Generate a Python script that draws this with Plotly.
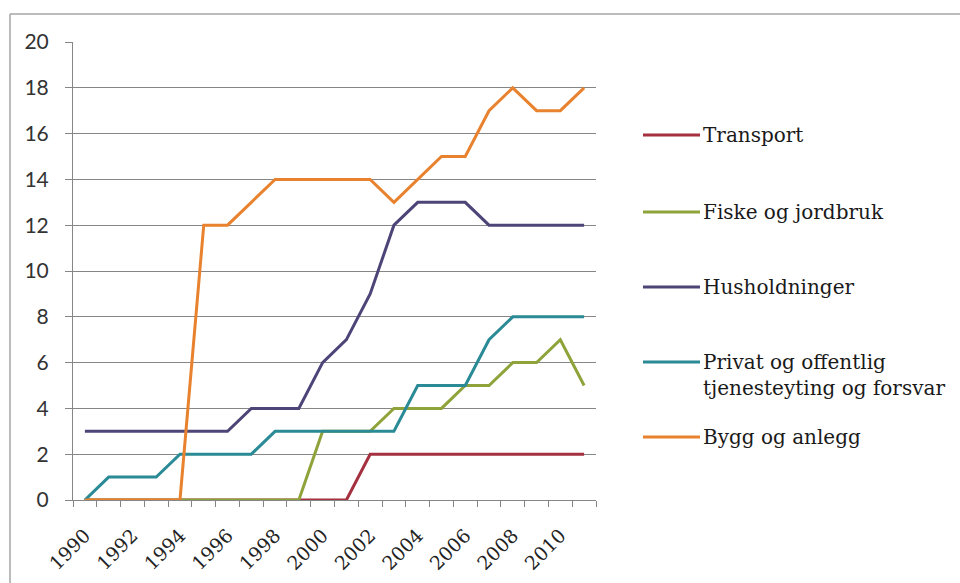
import plotly.graph_objects as go

# Years on the category axis
years = list(range(1990, 2012))
year_labels = [str(y) for y in range(1990, 2011, 2)]

# Series (number per year)
transport = [0, 0, 0, 0, 0, 0, 0, 0, 0, 0, 0, 0, 2, 2, 2, 2, 2, 2, 2, 2, 2, 2]
fiske = [0, 0, 0, 0, 0, 0, 0, 0, 0, 0, 3, 3, 3, 4, 4, 4, 5, 5, 6, 6, 7, 5]
husholdninger = [3, 3, 3, 3, 3, 3, 3, 4, 4, 4, 6, 7, 9, 12, 13, 13, 13, 12, 12, 12, 12, 12]
privat = [0, 1, 1, 1, 2, 2, 2, 2, 3, 3, 3, 3, 3, 3, 5, 5, 5, 7, 8, 8, 8, 8]
bygg = [0, 0, 0, 0, 0, 12, 12, 13, 14, 14, 14, 14, 14, 13, 14, 15, 15, 17, 18, 17, 17, 18]

series_names = [
    "Transport",
    "Fiske og jordbruk",
    "Husholdninger",
    "Privat og offentlig<br>tjenesteyting og forsvar",
    "Bygg og anlegg",
]
series_values = [transport, fiske, husholdninger, privat, bygg]
series_colors = ["#A5303F", "#8EA33A", "#4D4478", "#2A8A95", "#E8822E"]

# Plot area in pixels (figure is 960 x 583)
W, H = 960, 583
L, R, T, B = 73, 596, 42, 500
pw, ph = R - L, B - T


def px_x(px):
    return (px - L) / pw


def px_y(py):
    return (B - py) / ph


fig = go.Figure()

# Draw so that Bygg og anlegg ends up on top, Transport on the bottom
for name, vals, col in zip(series_names, series_values, series_colors):
    fig.add_trace(go.Scatter(
        x=years, y=vals, mode="lines", name=name,
        line=dict(color=col, width=3), showlegend=False,
    ))

serif = "DejaVu Serif"
sans = "Lato"

# Hand-drawn legend on the right
legend_rows = [135, 212, 287, 362, 437]
shapes = []
annotations = []
for name, col, ry in zip(series_names, series_colors, legend_rows):
    shapes.append(dict(
        type="line", xref="paper", yref="paper",
        x0=px_x(643), x1=px_x(700), y0=px_y(ry), y1=px_y(ry),
        line=dict(color=col, width=3),
    ))
    annotations.append(dict(
        xref="paper", yref="paper", x=px_x(701), y=px_y(ry - 14),
        xanchor="left", yanchor="top", align="left", showarrow=False,
        text=name, font=dict(family=serif, size=20, color="#1a1a1a"),
    ))

# Outer chart frame (top and left edges visible)
shapes.append(dict(type="line", xref="paper", yref="paper",
                   x0=px_x(10), x1=px_x(970), y0=px_y(14), y1=px_y(14),
                   line=dict(color="#A6A6A6", width=1.5)))
shapes.append(dict(type="line", xref="paper", yref="paper",
                   x0=px_x(10), x1=px_x(10), y0=px_y(14), y1=px_y(600),
                   line=dict(color="#A6A6A6", width=1.5)))

fig.update_layout(
    width=W, height=H,
    margin=dict(l=L, r=W - R, t=T, b=H - B, pad=0, autoexpand=False),
    paper_bgcolor="white", plot_bgcolor="white",
    shapes=shapes, annotations=annotations,
    showlegend=False,
)

fig.update_xaxes(
    range=[1989.5, 2011.5], automargin=False,
    tickmode="array", tickvals=[int(v) for v in year_labels], ticktext=year_labels,
    tickangle=-45, ticks="", showgrid=False,
    showline=True, linecolor="#868686", linewidth=1,
    tickfont=dict(family=serif, size=19, color="#222222"),
    ticklabelstandoff=16,
    minor=dict(ticks="outside", ticklen=6, tickcolor="#868686",
               tick0=1989.5, dtick=1, showgrid=False),
    zeroline=False,
)

fig.update_yaxes(
    range=[0, 20], dtick=2, tick0=0, automargin=False,
    ticks="outside", ticklen=7, tickcolor="#868686",
    showgrid=True, gridcolor="#868686", gridwidth=1,
    showline=True, linecolor="#868686", linewidth=1,
    tickfont=dict(family=sans, size=21, color="#333333"),
    ticklabelstandoff=12,
    zeroline=False,
)

fig.write_html("out.html")
